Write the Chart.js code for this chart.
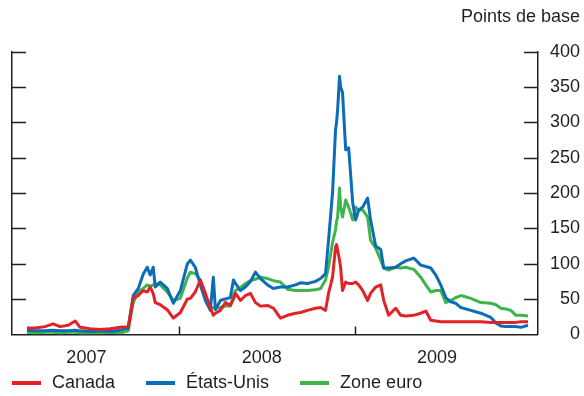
<!DOCTYPE html>
<html>
<head>
<meta charset="utf-8">
<script src="https://cdn.jsdelivr.net/npm/chart.js@4/dist/chart.umd.min.js"></script>
<style>
  body { margin: 0; background: #fff; }
  #wrap { position: relative; width: 584px; height: 396px; }
  #legend { position: absolute; left: 12px; top: 372px; display: flex; font: 18px "Liberation Sans", Arial, sans-serif; color: #231f20; }
  #legend span { display: flex; align-items: center; margin-right: 31px; }
  #legend i { display: inline-block; width: 29px; height: 4px; margin-right: 11px; }
</style>
</head>
<body>
<div id="wrap">
  <canvas id="spreadChart" width="584" height="396"></canvas>
  <div id="legend"></div>
</div>
<script>
// time in years
const t = [
  2007.131, 2007.177, 2007.234, 2007.280, 2007.320, 2007.366, 2007.406, 2007.434, 2007.491, 2007.549,
  2007.606, 2007.663, 2007.709, 2007.737, 2007.766, 2007.794, 2007.817, 2007.834, 2007.851, 2007.863,
  2007.891, 2007.931, 2007.966, 2008.006, 2008.046, 2008.063, 2008.091, 2008.120, 2008.149, 2008.177,
  2008.194, 2008.206, 2008.234, 2008.263, 2008.291, 2008.309, 2008.320, 2008.349, 2008.377, 2008.406,
  2008.434, 2008.463, 2008.503, 2008.537, 2008.577, 2008.617, 2008.663, 2008.691, 2008.731, 2008.777,
  2008.806, 2008.834, 2008.851, 2008.874, 2008.891, 2008.897, 2008.903, 2008.914, 2008.920, 2008.931,
  2008.949, 2008.966, 2008.989, 2009.006, 2009.023, 2009.046, 2009.074, 2009.091, 2009.120, 2009.149,
  2009.166, 2009.194, 2009.234, 2009.263, 2009.291, 2009.337, 2009.377, 2009.406, 2009.434, 2009.463,
  2009.491, 2009.520, 2009.549, 2009.577, 2009.606, 2009.663, 2009.720, 2009.777, 2009.806, 2009.834,
  2009.863, 2009.891, 2009.920, 2009.949, 2009.989
];

const canada = [
  9, 9, 11, 15, 11, 13, 19, 10, 8, 7,
  8, 10, 11, 52, 55, 62, 60, 67, 58, 45,
  42, 35, 23, 31, 50, 51, 60, 77, 58, 38,
  27, 30, 34, 45, 41, 50, 58, 48, 55, 58,
  45, 40, 41, 37, 23, 27, 30, 31, 34, 37,
  38, 34, 58, 81, 123, 127, 119, 105, 95, 62,
  74, 72, 72, 74, 70, 62, 48, 58, 67, 70,
  48, 27, 37, 27, 26, 27, 30, 33, 20, 19,
  18, 18, 18, 18, 18, 18, 18, 17, 17, 17,
  17, 17, 17, 18, 18
];

const etatsUnis = [
  6, 5, 5, 6, 5, 5, 6, 5, 4, 5,
  4, 6, 9, 55, 65, 85, 95, 84, 95, 67,
  74, 65, 44, 62, 100, 105, 95, 70, 48, 34,
  81, 35, 48, 50, 52, 77, 72, 62, 67, 75,
  88, 79, 70, 65, 67, 67, 70, 73, 72, 75,
  79, 86, 133, 200, 289, 300, 318, 365, 350, 342,
  261, 264, 186, 162, 176, 180, 193, 162, 125, 120,
  94, 94, 95, 100, 104, 108, 98, 96, 94, 84,
  70, 52, 46, 44, 38, 34, 30, 24, 16, 12,
  11, 11, 11, 10, 13
];

const zoneEuro = [
  3, 2, 3, 3, 2, 3, 3, 2, 2, 2,
  3, 2, 5, 45, 60, 65, 70, 68, 70, 72,
  70, 60, 48, 51, 80, 88, 86, 77, 52, 38,
  38, 37, 38, 40, 40, 55, 62, 66, 72, 76,
  78, 81, 79, 76, 74, 64, 62, 62, 62, 63,
  65, 77, 95, 130, 148, 160, 166, 207, 180, 166,
  190, 180, 162, 180, 176, 176, 166, 133, 122, 105,
  94, 91, 95, 94, 95, 92, 81, 70, 60, 62,
  62, 45, 48, 52, 55, 51, 45, 44, 42, 37,
  36, 34, 27, 27, 26
];

const seriesNames = ['Canada', 'États-Unis', 'Zone euro'];
const seriesColors = ['#e42127', '#0b6db7', '#3db54a'];
const yearLabels = [2007, 2008, 2009];
const yTicks = [0, 50, 100, 150, 200, 250, 300, 350, 400];

const ink = '#231f20';
const fontFamily = '"Liberation Sans", Arial, sans-serif';

function pts(values) {
    return values.map((v, i) => ({ x: t[i], y: v }));
}

// short tick marks pointing into the plot, like the original
const innerTicks = {
    id: 'innerTicks',
    beforeDatasetsDraw(chart) {
        const { ctx, chartArea, scales } = chart;
        ctx.save();
        ctx.strokeStyle = ink;
        ctx.lineWidth = 1.5;
        ctx.beginPath();
        yTicks.forEach(v => {
            if (v === 0) return;
            const y = Math.round(scales.y.getPixelForValue(v)) + 0.5;
            ctx.moveTo(chartArea.left, y);
            ctx.lineTo(chartArea.left + 14, y);
            ctx.moveTo(chartArea.right - 14, y);
            ctx.lineTo(chartArea.right, y);
        });
        [2008, 2009].forEach(yr => {
            const x = Math.round(scales.x.getPixelForValue(yr)) + 0.5;
            ctx.moveTo(x, chartArea.bottom);
            ctx.lineTo(x, chartArea.bottom - 8);
        });
        ctx.stroke();
        ctx.restore();
    }
};

const ctx = document.getElementById('spreadChart').getContext('2d');
const chart = new Chart(ctx, {
    type: 'line',
    data: {
        datasets: [canada, etatsUnis, zoneEuro].map((vals, i) => ({
            label: seriesNames[i],
            data: pts(vals),
            borderColor: seriesColors[i],
            borderWidth: 3,
            pointRadius: 0,
            tension: 0,
            borderJoinStyle: 'round',
            fill: false
        }))
    },
    options: {
        responsive: false,
        animation: false,
        layout: { padding: { left: 12, right: 4, top: 0, bottom: 14 } },
        scales: {
            x: {
                type: 'linear',
                min: 2007 + 8 / 175,
                max: 2010 + 8 / 175,
                afterBuildTicks: axis => {
                    axis.ticks = yearLabels.map(y => ({ value: y + 0.47 }));
                },
                ticks: {
                    callback: v => String(Math.floor(v)),
                    font: { family: fontFamily, size: 18 },
                    color: ink,
                    padding: 13,
                    maxRotation: 0,
                    autoSkip: false
                },
                grid: { display: false, drawTicks: false },
                border: { display: true, color: ink, width: 1.5 }
            },
            y: {
                position: 'right',
                min: 0,
                max: 400,
                afterBuildTicks: axis => {
                    axis.ticks = yTicks.map(v => ({ value: v }));
                },
                ticks: {
                    font: { family: fontFamily, size: 18 },
                    color: ink,
                    padding: 6,
                    crossAlign: 'far'
                },
                grid: { display: false, drawTicks: false },
                border: { display: true, color: ink, width: 1.5 }
            },
            yLeft: {
                position: 'left',
                min: 0,
                max: 400,
                ticks: { display: false },
                grid: { display: false, drawTicks: false },
                border: { display: true, color: ink, width: 1.5 }
            }
        },
        plugins: {
            legend: { display: false },
            tooltip: { enabled: false },
            title: {
                display: true,
                text: 'Points de base',
                align: 'end',
                color: ink,
                font: { family: fontFamily, size: 18, weight: 'normal' },
                padding: { top: 6, bottom: 24 }
            }
        }
    },
    plugins: [innerTicks]
});

// legend below the plot, built from the same names and colours
const legendBox = document.getElementById('legend');
seriesNames.forEach((name, i) => {
    const item = document.createElement('span');
    const mark = document.createElement('i');
    mark.style.background = seriesColors[i];
    item.appendChild(mark);
    item.appendChild(document.createTextNode(name));
    legendBox.appendChild(item);
});
</script>
</body>
</html>
